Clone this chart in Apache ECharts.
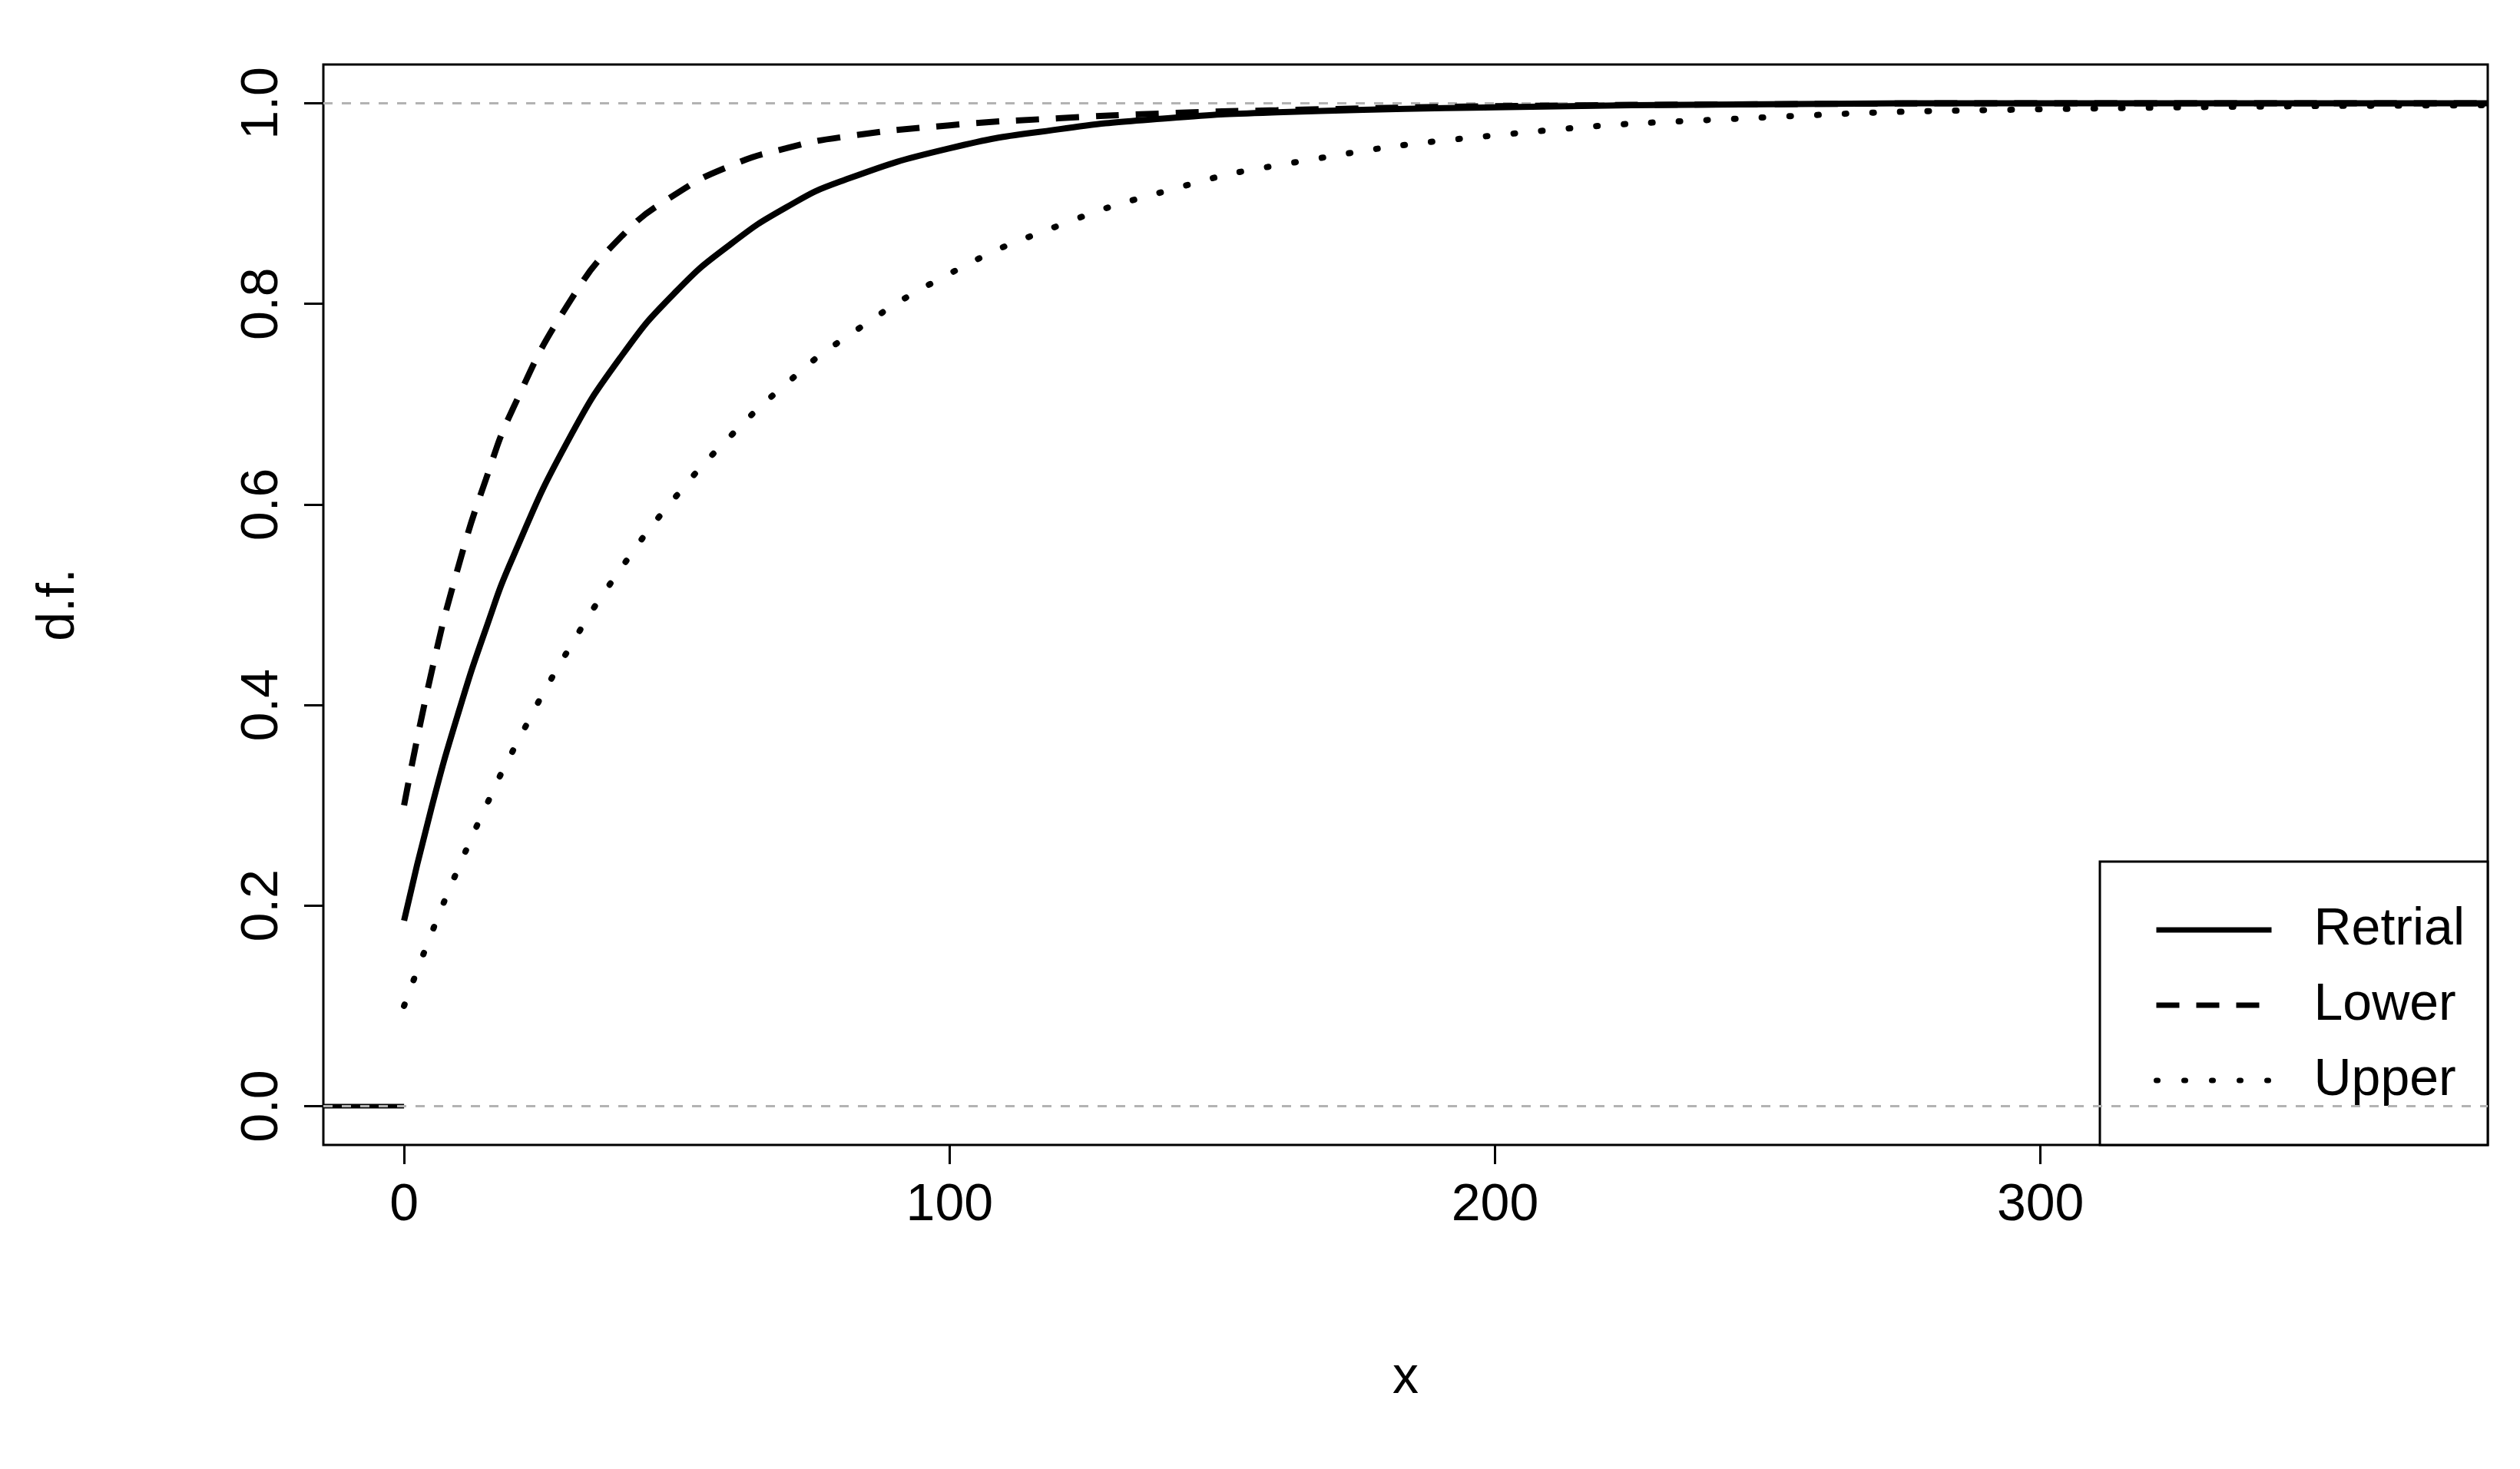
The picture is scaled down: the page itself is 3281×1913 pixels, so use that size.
<!DOCTYPE html>
<html>
<head>
<meta charset="utf-8">
<script src="https://cdn.jsdelivr.net/npm/echarts@6/dist/echarts.min.js"></script>
<style>html,body{margin:0;background:#fff}#main{width:3281px;height:1913px}</style>
</head>
<body>
<div id="main"></div>
<script>
// x values and curve values
var xs = [0, 5, 10, 15, 20, 30, 40, 50, 60, 70, 80, 100, 120, 140, 160, 200, 250, 300, 382];
var retrial = [0.185, 0.297, 0.393, 0.476, 0.548, 0.663, 0.749, 0.813, 0.86, 0.896, 0.922, 0.955, 0.974, 0.985, 0.991, 0.996, 0.999, 1.0, 1.0];
var lower = [0.3, 0.432, 0.539, 0.625, 0.696, 0.799, 0.868, 0.91, 0.938, 0.955, 0.966, 0.978, 0.985, 0.99, 0.993, 0.997, 0.999, 1.0, 1.0];
var upper = [0.1, 0.172, 0.238, 0.299, 0.355, 0.454, 0.538, 0.609, 0.669, 0.72, 0.763, 0.83, 0.878, 0.913, 0.938, 0.968, 0.986, 0.994, 0.998];
var xTicks = [0, 100, 200, 300];
var yTicks = [0, 0.2, 0.4, 0.6, 0.8, 1.0];

function pairs(v) { return xs.map(function (x, i) { return [x, v[i]]; }); }

var font = "Liberation Sans, Arial, sans-serif";
var chart = echarts.init(document.getElementById("main"));
chart.setOption({
    animation: false,
    grid: {
        left: 421, right: 42, top: 84, bottom: 422,
        show: true, borderColor: "#000", borderWidth: 3, backgroundColor: "transparent"
    },
    legend: {
        orient: "vertical",
        right: 42, bottom: 422,
        padding: [55, 30, 50, 70],
        itemGap: 30,
        itemWidth: 150, itemHeight: 10,
        backgroundColor: "#fff",
        borderColor: "#000", borderWidth: 3,
        itemStyle: { opacity: 0 },
        lineStyle: { width: 7, color: "#000" },
        textStyle: { fontSize: 68, fontFamily: font, color: "#000", padding: [0, 0, 0, 50] },
        data: ["Retrial", "Lower", "Upper"]
    },
    xAxis: {
        type: "value", min: -14.8, max: 382,
        name: "x", nameLocation: "middle", nameGap: 270,
        nameTextStyle: { fontSize: 68, fontFamily: font, color: "#000" },
        axisLine: { show: false, onZero: false },
        axisTick: { show: true, length: 25, lineStyle: { color: "#000", width: 3 }, customValues: xTicks },
        axisLabel: { fontSize: 68, fontFamily: font, color: "#000", margin: 45, customValues: xTicks },
        splitLine: { show: false }
    },
    yAxis: {
        type: "value", min: -0.0386, max: 1.0386,
        name: "d.f.", nameLocation: "middle", nameGap: 310, nameRotate: 90,
        nameTextStyle: { fontSize: 68, fontFamily: font, color: "#000" },
        axisLine: { show: false, onZero: false },
        axisTick: { show: true, length: 25, lineStyle: { color: "#000", width: 3 }, customValues: yTicks },
        axisLabel: {
            fontSize: 68, fontFamily: font, color: "#000", margin: 45, rotate: 90,
            customValues: yTicks, formatter: function (v) { return v.toFixed(1); }
        },
        splitLine: { show: false }
    },
    series: [
        {
            name: "Retrial", type: "line", data: pairs(retrial), symbol: "none", smooth: true,
            lineStyle: { color: "#000", width: 8 }, itemStyle: { color: "#000" }, z: 5,
            markLine: {
                silent: true, symbol: "none", label: { show: false },
                lineStyle: { color: "#b3b3b3", type: [12, 12], width: 3 },
                data: [{ yAxis: 0 }, { yAxis: 1 }]
            }
        },
        {
            name: "Lower", type: "line", data: pairs(lower), symbol: "none", smooth: true,
            lineStyle: { color: "#000", width: 8, type: [30, 22] }, itemStyle: { color: "#000" }, z: 5
        },
        {
            name: "Upper", type: "line", data: pairs(upper), symbol: "none", smooth: true,
            lineStyle: { color: "#000", width: 8, type: [2, 34], cap: "round" }, itemStyle: { color: "#000" }, z: 5
        },
        {
            name: "left", type: "line", data: [[-14.8, 0], [0, 0]], symbol: "none",
            lineStyle: { color: "#000", width: 6 }, z: 4
        }
    ]
});
</script>
</body>
</html>
